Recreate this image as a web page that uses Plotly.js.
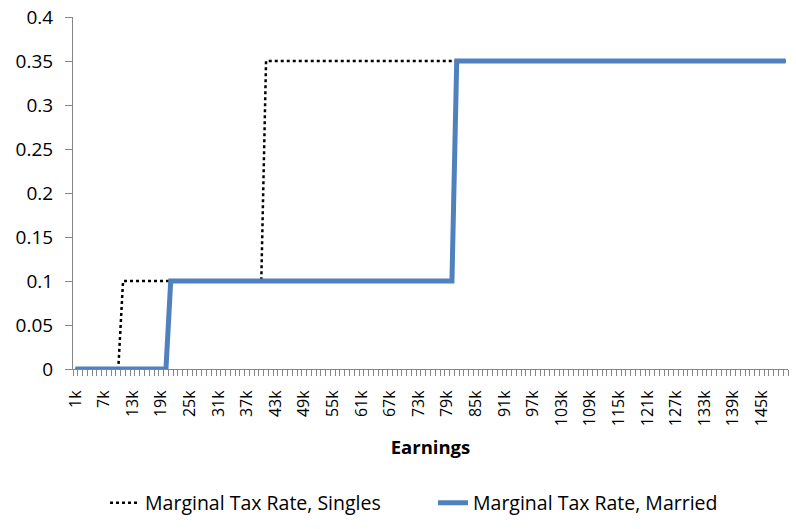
<!DOCTYPE html>
<html>
<head>
<meta charset="utf-8">
<script src="https://cdn.plot.ly/plotly-3.0.1.min.js"></script>
<style>
  html, body { margin: 0; padding: 0; background: #fff; }
  #chart { width: 796px; height: 529px; }
</style>
</head>
<body>
<div id="chart"></div>
<script>
// Earnings, in thousands (one category per 1k)
const earnings = [
  1, 2, 3, 4, 5, 6, 7, 8, 9, 10,
  11, 12, 13, 14, 15, 16, 17, 18, 19, 20,
  21, 22, 23, 24, 25, 26, 27, 28, 29, 30,
  31, 32, 33, 34, 35, 36, 37, 38, 39, 40,
  41, 42, 43, 44, 45, 46, 47, 48, 49, 50,
  51, 52, 53, 54, 55, 56, 57, 58, 59, 60,
  61, 62, 63, 64, 65, 66, 67, 68, 69, 70,
  71, 72, 73, 74, 75, 76, 77, 78, 79, 80,
  81, 82, 83, 84, 85, 86, 87, 88, 89, 90,
  91, 92, 93, 94, 95, 96, 97, 98, 99, 100,
  101, 102, 103, 104, 105, 106, 107, 108, 109, 110,
  111, 112, 113, 114, 115, 116, 117, 118, 119, 120,
  121, 122, 123, 124, 125, 126, 127, 128, 129, 130,
  131, 132, 133, 134, 135, 136, 137, 138, 139, 140,
  141, 142, 143, 144, 145, 146, 147, 148, 149, 150
];

const singlesRate = [
  0, 0, 0, 0, 0, 0, 0, 0, 0, 0,
  0.1, 0.1, 0.1, 0.1, 0.1, 0.1, 0.1, 0.1, 0.1, 0.1,
  0.1, 0.1, 0.1, 0.1, 0.1, 0.1, 0.1, 0.1, 0.1, 0.1,
  0.1, 0.1, 0.1, 0.1, 0.1, 0.1, 0.1, 0.1, 0.1, 0.1,
  0.35, 0.35, 0.35, 0.35, 0.35, 0.35, 0.35, 0.35, 0.35, 0.35,
  0.35, 0.35, 0.35, 0.35, 0.35, 0.35, 0.35, 0.35, 0.35, 0.35,
  0.35, 0.35, 0.35, 0.35, 0.35, 0.35, 0.35, 0.35, 0.35, 0.35,
  0.35, 0.35, 0.35, 0.35, 0.35, 0.35, 0.35, 0.35, 0.35, 0.35,
  0.35, 0.35, 0.35, 0.35, 0.35, 0.35, 0.35, 0.35, 0.35, 0.35,
  0.35, 0.35, 0.35, 0.35, 0.35, 0.35, 0.35, 0.35, 0.35, 0.35,
  0.35, 0.35, 0.35, 0.35, 0.35, 0.35, 0.35, 0.35, 0.35, 0.35,
  0.35, 0.35, 0.35, 0.35, 0.35, 0.35, 0.35, 0.35, 0.35, 0.35,
  0.35, 0.35, 0.35, 0.35, 0.35, 0.35, 0.35, 0.35, 0.35, 0.35,
  0.35, 0.35, 0.35, 0.35, 0.35, 0.35, 0.35, 0.35, 0.35, 0.35,
  0.35, 0.35, 0.35, 0.35, 0.35, 0.35, 0.35, 0.35, 0.35, 0.35
];

const marriedRate = [
  0, 0, 0, 0, 0, 0, 0, 0, 0, 0,
  0, 0, 0, 0, 0, 0, 0, 0, 0, 0,
  0.1, 0.1, 0.1, 0.1, 0.1, 0.1, 0.1, 0.1, 0.1, 0.1,
  0.1, 0.1, 0.1, 0.1, 0.1, 0.1, 0.1, 0.1, 0.1, 0.1,
  0.1, 0.1, 0.1, 0.1, 0.1, 0.1, 0.1, 0.1, 0.1, 0.1,
  0.1, 0.1, 0.1, 0.1, 0.1, 0.1, 0.1, 0.1, 0.1, 0.1,
  0.1, 0.1, 0.1, 0.1, 0.1, 0.1, 0.1, 0.1, 0.1, 0.1,
  0.1, 0.1, 0.1, 0.1, 0.1, 0.1, 0.1, 0.1, 0.1, 0.1,
  0.35, 0.35, 0.35, 0.35, 0.35, 0.35, 0.35, 0.35, 0.35, 0.35,
  0.35, 0.35, 0.35, 0.35, 0.35, 0.35, 0.35, 0.35, 0.35, 0.35,
  0.35, 0.35, 0.35, 0.35, 0.35, 0.35, 0.35, 0.35, 0.35, 0.35,
  0.35, 0.35, 0.35, 0.35, 0.35, 0.35, 0.35, 0.35, 0.35, 0.35,
  0.35, 0.35, 0.35, 0.35, 0.35, 0.35, 0.35, 0.35, 0.35, 0.35,
  0.35, 0.35, 0.35, 0.35, 0.35, 0.35, 0.35, 0.35, 0.35, 0.35,
  0.35, 0.35, 0.35, 0.35, 0.35, 0.35, 0.35, 0.35, 0.35, 0.35
];

// Labelled categories on the x axis
const tickPositions = [1, 7, 13, 19, 25, 31, 37, 43, 49, 55, 61, 67, 73, 79, 85, 91, 97, 103, 109, 115, 121, 127, 133, 139, 145];
const tickLabels = ["1k", "7k", "13k", "19k", "25k", "31k", "37k", "43k", "49k", "55k", "61k", "67k", "73k", "79k", "85k", "91k", "97k", "103k", "109k", "115k", "121k", "127k", "133k", "139k", "145k"];

const seriesNames = ["Marginal Tax Rate, Singles", "Marginal Tax Rate, Married"];

const FONT = "Open Sans, Lato, DejaVu Sans, sans-serif";

const traces = [
  {
    x: earnings, y: singlesRate, type: "scatter", mode: "lines",
    name: seriesNames[0], legend: "legend",
    line: { color: "#000000", width: 2.5, dash: "dot" }
  },
  {
    x: earnings, y: marriedRate, type: "scatter", mode: "lines",
    name: seriesNames[1], legend: "legend2",
    line: { color: "#4F81BD", width: 5 }
  }
];

const legendFont = { family: FONT, size: 19.5, color: "#000000" };

const layout = {
  width: 796, height: 529,
  margin: { l: 73, r: 8, t: 17, b: 159 },
  paper_bgcolor: "#ffffff", plot_bgcolor: "#ffffff",
  font: { family: FONT, size: 18, color: "#000000" },
  showlegend: true,
  legend: {
    orientation: "h", x: 0.0448, xanchor: "left", y: -0.377, yanchor: "middle",
    font: legendFont, bgcolor: "rgba(0,0,0,0)"
  },
  legend2: {
    orientation: "h", x: 0.5035, xanchor: "left", y: -0.377, yanchor: "middle",
    font: legendFont, bgcolor: "rgba(0,0,0,0)"
  },
  xaxis: {
    type: "linear", range: [0.5, 150.5],
    tickmode: "array", tickvals: tickPositions, ticktext: tickLabels,
    tickangle: -90, ticks: "", ticklabelstandoff: 14,
    tickfont: { family: FONT, size: 16, color: "#000000" },
    showline: true, linecolor: "#868686", linewidth: 1,
    showgrid: false, zeroline: false,
    minor: { tickmode: "linear", tick0: 0.5, dtick: 1, ticks: "outside", ticklen: 6, tickcolor: "#868686", tickwidth: 1, showgrid: false },
    title: { text: "<b>Earnings</b>", font: { family: FONT, size: 18.5, color: "#000000" }, standoff: 15 },
    fixedrange: true
  },
  yaxis: {
    range: [0, 0.4], tickmode: "linear", tick0: 0, dtick: 0.05,
    ticks: "outside", ticklen: 7, tickcolor: "#868686", tickwidth: 1,
    ticklabelstandoff: 8,
    tickfont: { family: FONT, size: 19, color: "#000000" },
    showline: true, linecolor: "#868686", linewidth: 1,
    showgrid: false, zeroline: false,
    fixedrange: true
  }
};

Plotly.newPlot("chart", traces, layout, { displayModeBar: false, staticPlot: true });
</script>
</body>
</html>
